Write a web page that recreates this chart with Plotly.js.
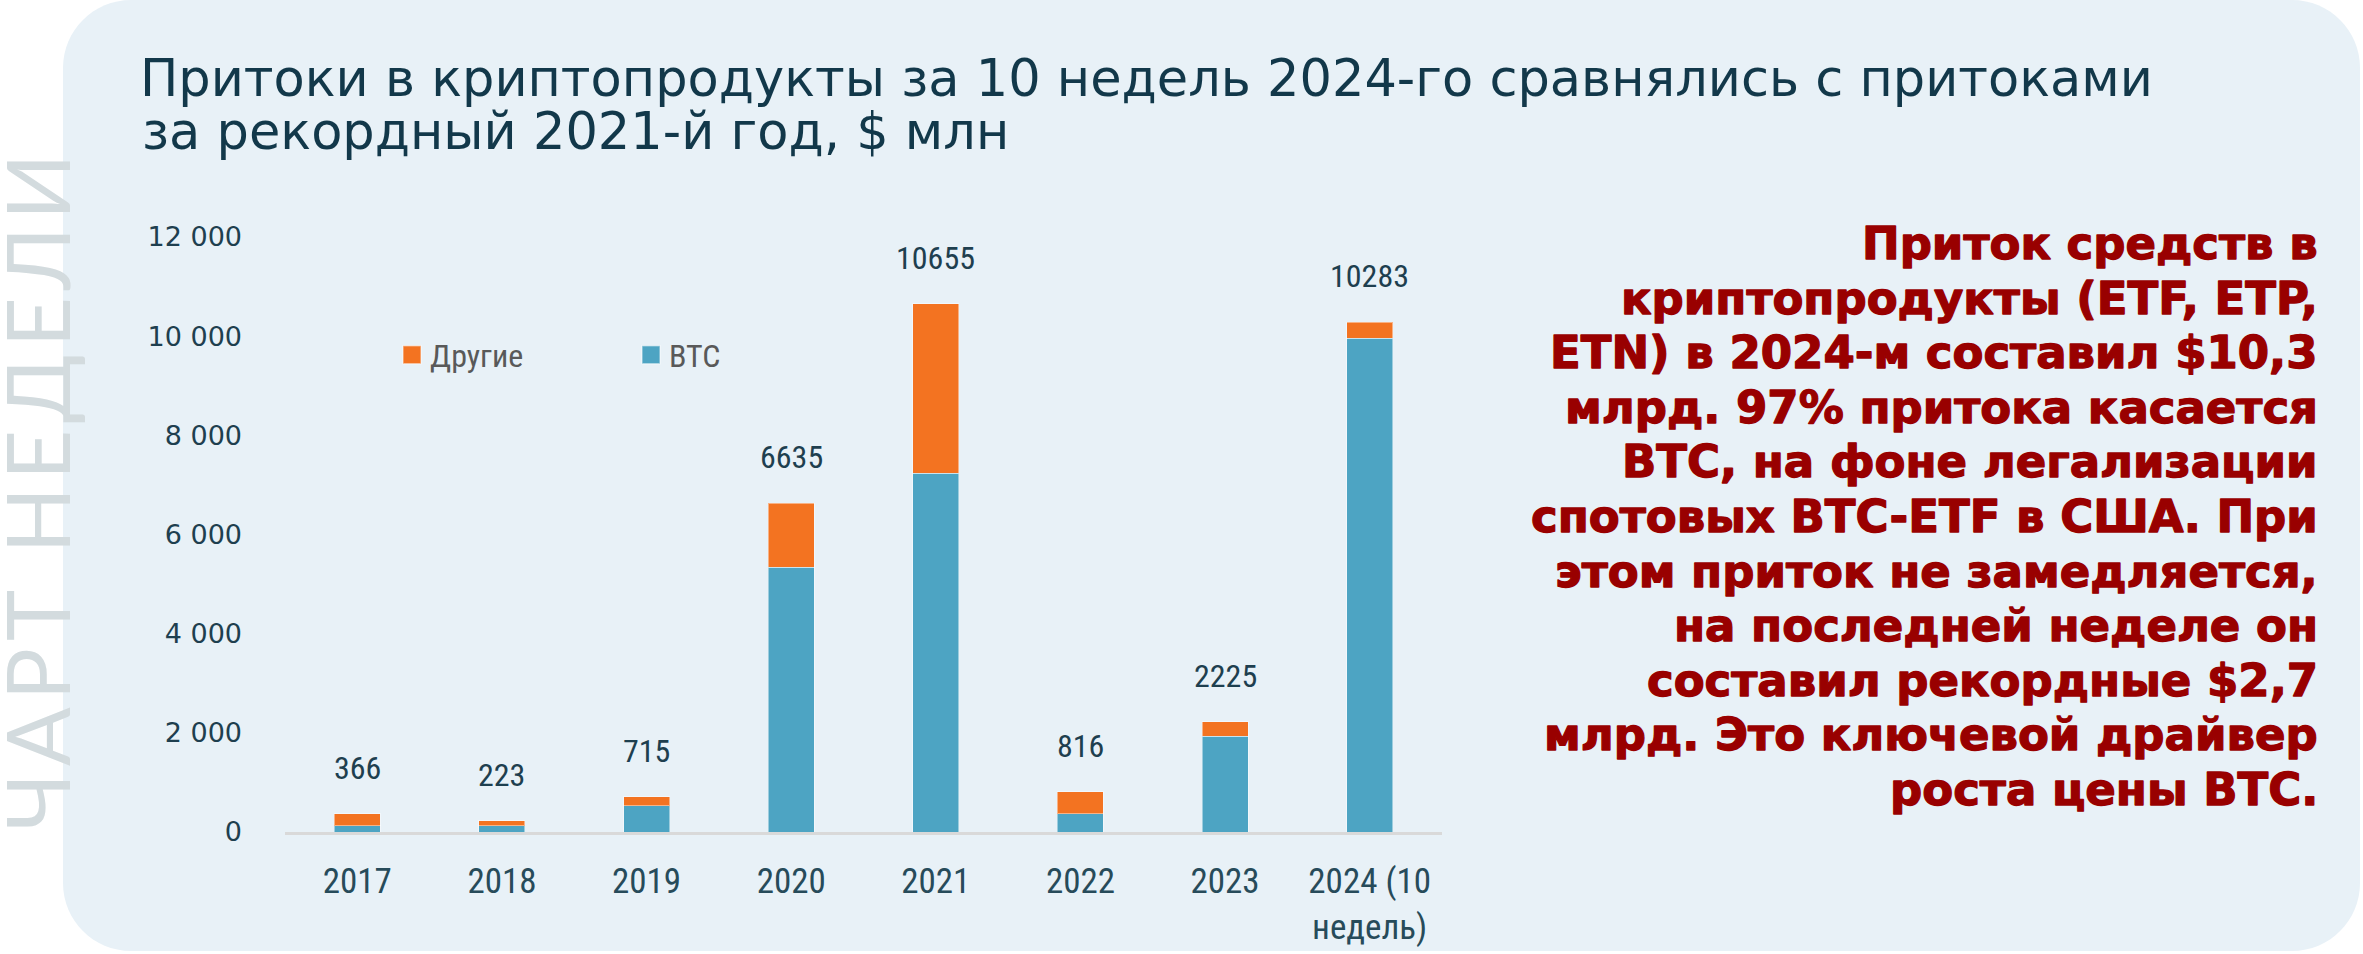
<!DOCTYPE html>
<html>
<head>
<meta charset="utf-8">
<script src="https://cdn.plot.ly/plotly-3.0.1.min.js"></script>
<style>
html,body{margin:0;padding:0;background:#ffffff;}
#chart{width:2363px;height:954px;}
</style>
</head>
<body>
<div id="chart"></div>
<script>
// ---- data ----
const categories = ['2017', '2018', '2019', '2020', '2021', '2022', '2023', '2024 (10<br>недель)'];
const btcValues = [130, 125, 532, 5340, 7240, 370, 1930, 9960];
const otherValues = [236, 98, 183, 1295, 3415, 446, 295, 323];
const totalValues = [366, 223, 715, 6635, 10655, 816, 2225, 10283];
const seriesNames = ['BTC', 'Другие'];
const yTickValues = [0, 2000, 4000, 6000, 8000, 10000, 12000];
const titleLines = [
  'Притоки в криптопродукты за 10 недель 2024-го сравнялись с притоками',
  'за рекордный 2021-й год, $ млн'
];
const noteLines = [
  'Приток средств в',
  'криптопродукты (ETF, ETP,',
  'ETN) в 2024-м составил $10,3',
  'млрд. 97% притока касается',
  'BTC, на фоне легализации',
  'спотовых BTC-ETF в США. При',
  'этом приток не замедляется,',
  'на последней неделе он',
  'составил рекордные $2,7',
  'млрд. Это ключевой драйвер',
  'роста цены BTC.'
];
const sideLabel = 'ЧАРТ НЕДЕЛИ';

// ---- layout geometry (pixels) ----
const W = 2363, H = 954;
const M = {l: 285, r: 921, t: 237, b: 122};
const PW = W - M.l - M.r, PH = H - M.t - M.b;
const px = v => (v - M.l) / PW;
const py = v => (H - M.b - v) / PH;

function roundRect(x0, y0, x1, y1, r) {
  const k = 0.5523 * r;
  const X = px, Y = py;
  return 'M' + X(x0 + r) + ',' + Y(y0) +
    ' L' + X(x1 - r) + ',' + Y(y0) +
    ' C' + X(x1 - r + k) + ',' + Y(y0) + ' ' + X(x1) + ',' + Y(y0 + r - k) + ' ' + X(x1) + ',' + Y(y0 + r) +
    ' L' + X(x1) + ',' + Y(y1 - r) +
    ' C' + X(x1) + ',' + Y(y1 - r + k) + ' ' + X(x1 - r + k) + ',' + Y(y1) + ' ' + X(x1 - r) + ',' + Y(y1) +
    ' L' + X(x0 + r) + ',' + Y(y1) +
    ' C' + X(x0 + r - k) + ',' + Y(y1) + ' ' + X(x0) + ',' + Y(y1 - r + k) + ' ' + X(x0) + ',' + Y(y1 - r) +
    ' L' + X(x0) + ',' + Y(y0 + r) +
    ' C' + X(x0) + ',' + Y(y0 + r - k) + ' ' + X(x0 + r - k) + ',' + Y(y0) + ' ' + X(x0 + r) + ',' + Y(y0) + ' Z';
}

const narrow = '"Liberation Sans Narrow", "Arial Narrow", "Roboto Condensed", Roboto, sans-serif';
const teal = '#1E3F4F';
const titleFont = {family: '"DejaVu Sans", sans-serif', size: 51, color: '#12384A'};
const noteFont = {family: '"DejaVu Sans", sans-serif', size: 45, color: '#990000', weight: 'bold'};

const traces = [
  {
    type: 'bar', name: seriesNames[0], x: categories, y: btcValues,
    marker: {color: '#4DA4C3', line: {color: 'rgba(255,255,255,0.45)', width: 1}},
    hoverinfo: 'x+y+name'
  },
  {
    type: 'bar', name: seriesNames[1], x: categories, y: otherValues,
    marker: {color: '#F37321', line: {color: 'rgba(255,255,255,0.45)', width: 1}},
    hoverinfo: 'x+y+name'
  }
];

const annotations = [];
// value labels above bars (x given as category index)
categories.forEach((c, i) => {
  annotations.push({
    x: i, y: totalValues[i], xref: 'x', yref: 'y',
    text: String(totalValues[i]), showarrow: false,
    yanchor: 'middle', xanchor: 'center', yshift: 46,
    font: {family: narrow, size: 32, color: teal}
  });
});
// second title line
annotations.push({
  xref: 'paper', yref: 'paper', x: px(140), y: py(131),
  xanchor: 'left', yanchor: 'middle', showarrow: false,
  text: titleLines[1], font: titleFont
});
// side commentary, one annotation per line
noteLines.forEach((line, i) => {
  annotations.push({
    xref: 'paper', yref: 'paper', x: px(2320), y: py(243.5 + i * 54.6),
    xanchor: 'right', yanchor: 'middle', align: 'right', showarrow: false,
    text: line, font: noteFont
  });
});
// vertical label
annotations.push({
  xref: 'paper', yref: 'paper', x: px(36), y: py(489),
  xanchor: 'center', yanchor: 'middle', showarrow: false, textangle: -90,
  text: sideLabel,
  font: {family: 'Lato, "Open Sans", sans-serif', size: 87, color: '#D3DBDE', weight: 400}
});

const layout = {
  width: W, height: H,
  margin: M,
  paper_bgcolor: '#ffffff',
  plot_bgcolor: 'rgba(0,0,0,0)',
  separators: ', ',
  barmode: 'stack',
  bargap: 0.682,
  title: {
    text: titleLines[0],
    font: titleFont,
    xref: 'container', yref: 'container',
    x: 140 / W, xanchor: 'left',
    y: 1 - 78 / H, yanchor: 'middle',
    pad: {t: 0, b: 0, l: 0, r: 0}
  },
  xaxis: {
    type: 'category',
    range: [-0.5, categories.length - 0.5],
    showline: true, linecolor: '#D9D9D9', linewidth: 3,
    ticks: '', showgrid: false, zeroline: false,
    tickfont: {family: narrow, size: 35, color: '#274B5A'},
    ticklabelstandoff: 16,
    fixedrange: true
  },
  yaxis: {
    range: [0, 12000],
    tickvals: yTickValues,
    tickformat: ',d',
    showgrid: false, zeroline: false, showline: false, ticks: '',
    tickfont: {family: '"DejaVu Sans", sans-serif', size: 27, color: teal},
    ticklabelstandoff: 42,
    fixedrange: true
  },
  showlegend: true,
  legend: {
    orientation: 'h',
    traceorder: 'reversed',
    x: px(390), xanchor: 'left',
    y: py(355), yanchor: 'middle',
    bgcolor: 'rgba(0,0,0,0)',
    font: {family: narrow, size: 32, color: '#595959'},
    entrywidth: 194, entrywidthmode: 'pixels'
  },
  shapes: [{
    type: 'path', xref: 'paper', yref: 'paper',
    path: roundRect(63, 0, 2360, 951, 68),
    fillcolor: '#E8F1F7', line: {width: 0}, layer: 'below'
  }],
  annotations: annotations
};

Plotly.newPlot('chart', traces, layout, {displayModeBar: false, responsive: false}).then(gd => {
  gd.querySelectorAll('.annotation-text').forEach(t => {
    // widen the light vertical label to match the wide typeface of the original
    if (t.textContent === sideLabel) t.style.letterSpacing = '7px';
    // heavier weight for the commentary block
    if (noteLines.indexOf(t.textContent) >= 0) {
      t.style.stroke = '#990000';
      t.style.strokeWidth = '1.3px';
      t.style.strokeLinejoin = 'round';
    }
  });
  // larger legend swatches, shifted a little toward their labels
  gd.querySelectorAll('.legend .legendpoints path').forEach(p => {
    const tr = p.getAttribute('transform') || '';
    p.setAttribute('transform', tr + ' translate(2,0) scale(1.5)');
  });
});
</script>
</body>
</html>
